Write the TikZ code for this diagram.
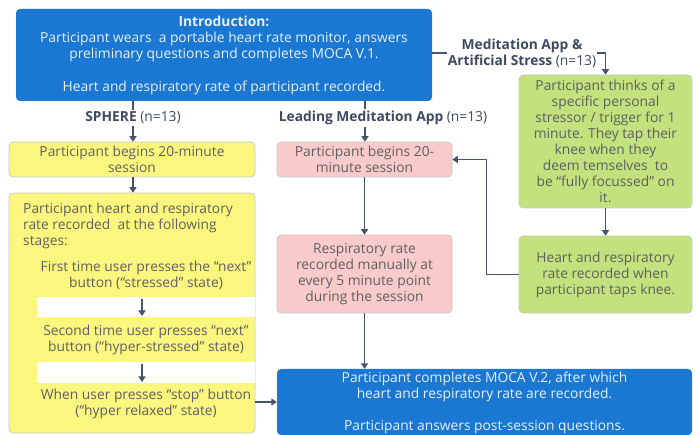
\documentclass[tikz,border=0pt]{standalone}
\usepackage{fontspec}
\setmainfont{Open Sans}
\usetikzlibrary{arrows.meta}
\definecolor{bluebox}{HTML}{1A78D2}
\definecolor{yel}{HTML}{FBF77E}
\definecolor{pinkbox}{HTML}{F9CACA}
\definecolor{grn}{HTML}{C2E27E}
\definecolor{conn}{HTML}{47526B}
\definecolor{txt}{HTML}{606060}
\definecolor{lab}{HTML}{3E4A63}
\definecolor{btxt}{HTML}{E6EFFB}
\begin{document}
\begin{tikzpicture}[x=1pt,y=-1pt,
  font=\fontsize{13.8}{16}\selectfont,
  box/.style={rectangle, rounded corners=4pt, inner sep=0pt, align=center},
  pastel/.style={box, draw=black!22, line width=0.6pt, text=txt},
  bluestyle/.style={box, fill=bluebox, text=btxt},
  txtnode/.style={inner sep=0pt, align=center, text=txt},
  lbl/.style={fill=white, inner sep=1.5pt, text=lab, align=center},
  arr/.style={draw=conn, line width=1.5pt, -{Triangle[length=5.5pt,width=7pt]}},
  ln/.style={draw=conn, line width=1.5pt}]
\useasboundingbox (0,0) rectangle (696,435);

% boxes
\node[bluestyle, minimum width=416pt, minimum height=92pt] (intro) at (224,55) {};
\node[bluestyle, anchor=north, inner sep=0pt] (introtxt) at (224,16)
  {\textbf{Introduction:}\\
   Participant wears\ \ a portable heart rate monitor, answers\\
   preliminary questions and completes MOCA V.1.\\[17pt]
   Heart and respiratory rate of participant recorded.};

\node[pastel, fill=yel, minimum width=246pt, minimum height=35pt] (y1) at (132,159.5)
  {Participant begins 20-minute\\ session};
\node[pastel, fill=yel, minimum width=246pt, minimum height=240pt] (y2) at (132,313) {};
\fill[white] (37,297) rectangle (255,317);
\fill[white] (37,362) rectangle (255,383);
\node[txtnode, align=left, anchor=north west] (y2a) at (23,203)
  {Participant heart and respiratory\\ rate recorded\ \ at the following\\ stages:};
\node[txtnode] (y2b) at (146,275.5) {First time user presses the “next”\\ button (“stressed” state)};
\node[txtnode] (y2c) at (146,339.5) {Second time user presses “next”\\ button (“hyper-stressed” state)};
\node[txtnode] (y2d) at (146,403.5) {When user presses “stop” button\\ (“hyper relaxed” state)};
\coordinate (s1a) at (142,299); \coordinate (s1b) at (142,316);
\coordinate (s2a) at (142,364); \coordinate (s2b) at (142,382);

\node[pastel, fill=pinkbox, minimum width=175pt, minimum height=35pt] (p1) at (364.5,159.5)
  {Participant begins 20-\\ minute session};
\node[pastel, fill=pinkbox, minimum width=175pt, minimum height=78pt] (p2) at (364.5,274)
  {Respiratory rate\\ recorded manually at\\ every 5 minute point\\ during the session};

\node[pastel, fill=grn, minimum width=173pt, minimum height=133pt] (g1) at (605.5,141.5)
  {Participant thinks of a\\ specific personal\\ stressor / trigger for 1\\ minute. They tap their\\
   knee when they\\ deem temselves\ \ to\\ be “fully focussed” on\\ it.};
\node[pastel, fill=grn, minimum width=173pt, minimum height=77pt] (g2) at (605.5,274.5)
  {Heart and respiratory\\ rate recorded when\\ participant taps knee.};

\node[bluestyle, minimum width=415pt, minimum height=66pt] (b2) at (484.5,402) {};
\node[bluestyle, anchor=north, inner sep=0pt] (b2txt) at (484.5,371.5)
  {Participant completes MOCA V.2, after which\\
   heart and respiratory rate are recorded.\\[16.5pt]
   Participant answers post-session questions.};

% labels
\node[lbl] (sph) at (133,118) {\textbf{SPHERE} (n=13)};
\node[lbl] (lead) at (383,118) {\textbf{Leading Meditation App} (n=13)};
\node[lbl, inner sep=0.5pt] (stress) at (522,53) {\textbf{Meditation App \&}\\ \textbf{Artificial Stress} (n=13)};

% connectors
\draw[ln] (intro.south -| sph.north) -- (sph.north);
\draw[arr] (sph.south) -- (y1.north -| sph.south);
\draw[arr] (y1.south -| sph.south) -- (y2.north -| sph.south);
\draw[ln] (intro.south -| 365,0) -- (lead.north -| 365,0);
\draw[arr] (lead.south -| 365,0) -- (p1.north -| 365,0);
\draw[arr] (p1.south) -- (p2.north);
\draw[arr] (p2.south) -- (p2.south |- b2.north);
\draw[ln] (intro.east |- stress.west) -- (stress.west);
\draw[arr] (stress.east) -| (g1.north);
\draw[arr] (g1.south) -- (g2.north);
\draw[arr] (g2.west) -- ++(-32,0) |- (p1.east);
\draw[arr] (b2.west -| y2.east) -- (b2.west);
\draw[arr] (s1a) -- (s1b);
\draw[arr] (s2a) -- (s2b);
\end{tikzpicture}
\end{document}
